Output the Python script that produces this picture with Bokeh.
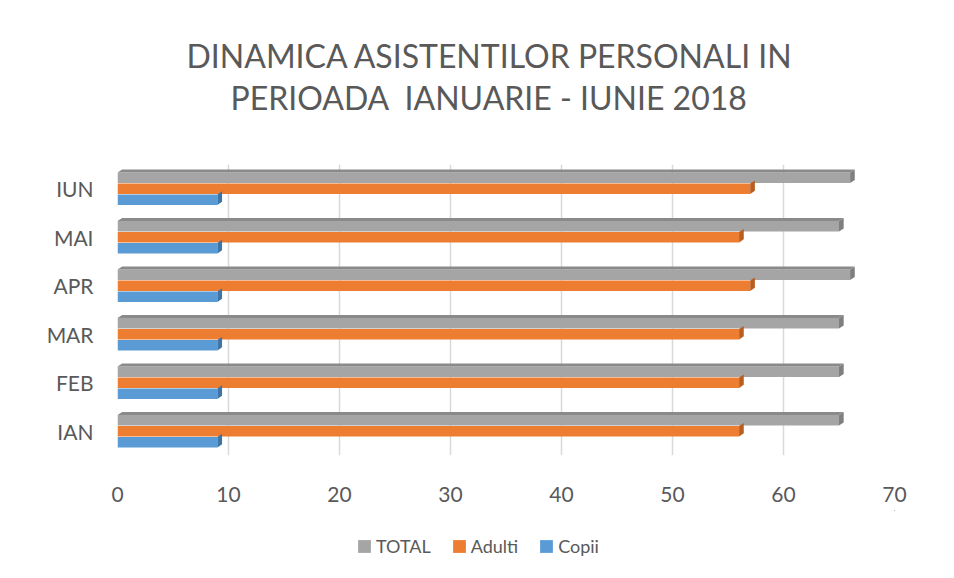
from bokeh.plotting import figure
from bokeh.layouts import column
from bokeh.models import Range1d, FixedTicker, Legend, LegendItem, Title, ColumnDataSource
from bokeh.embed import file_html
from bokeh.resources import INLINE

months = ["IAN", "FEB", "MAR", "APR", "MAI", "IUN"]
total = [65, 65, 65, 66, 65, 66]
adulti = [56, 56, 56, 57, 56, 57]
copii = [9, 9, 9, 9, 9, 9]
x_ticks = [0, 10, 20, 30, 40, 50, 60, 70]

series = [
    ("TOTAL", total, 0.225, "#a5a5a5", "#7f7f7f"),
    ("Adulti", adulti, 0.0, "#ed7d31", "#b85e20"),
    ("Copii", copii, -0.225, "#5b9bd5", "#3e74a6"),
]

FONT = "Lato"
TXT = "#595959"

p = figure(width=954, height=510, output_backend="svg", toolbar_location=None,
           x_range=Range1d(0, 70), y_range=Range1d(0, len(months)),
           min_border_left=117, min_border_right=60, min_border_top=164, min_border_bottom=55)
p.outline_line_color = None
p.background_fill_color = "white"
p.border_fill_color = "white"

bar_h = 0.215
dx, dy = 0.42, 0.065
sources = []
for name, vals, off, col, dark in series:
    ys = [i + 0.5 + off for i in range(len(months))]
    src = ColumnDataSource(dict(y=ys, right=vals))
    sources.append(src)
    p.hbar(y="y", left=0, right="right", height=bar_h, source=src,
           fill_color=col, line_color=None)
    # 3D side faces
    xs_side, ys_side = [], []
    for v, yc in zip(vals, ys):
        yb, yt = yc - bar_h / 2, yc + bar_h / 2
        xs_side.append([v, v, v + dx, v + dx])
        ys_side.append([yb, yt, yt + dy, yb + dy])
    p.patches(xs_side, ys_side, fill_color=dark, line_color=None)
    if name == "TOTAL":
        xs_top, ys_top = [], []
        for v, yc in zip(vals, ys):
            yt = yc + bar_h / 2
            xs_top.append([0, v, v + dx, dx])
            ys_top.append([yt, yt, yt + dy, yt + dy])
        p.patches(xs_top, ys_top, fill_color="#8a8a8a", line_color=None)

p.xaxis.ticker = FixedTicker(ticks=x_ticks)
p.yaxis.ticker = FixedTicker(ticks=[i + 0.5 for i in range(len(months))])
p.yaxis.major_label_overrides = {i + 0.5: m for i, m in enumerate(months)}

for ax in (p.xaxis, p.yaxis):
    ax.axis_line_color = None
    ax.major_tick_line_color = None
    ax.minor_tick_line_color = None
    ax.major_label_text_font = FONT
    ax.major_label_text_font_size = "21px"
    ax.major_label_text_color = TXT
p.xaxis.major_label_standoff = 25
p.yaxis.major_label_standoff = 18

p.xgrid.grid_line_color = "#d9d9d9"
p.xgrid.grid_line_width = 1.5
p.ygrid.grid_line_color = None

spacer = Title(text="\u00a0", text_font=FONT, text_font_size="10px", standoff=34)
t2 = Title(text="PERIOADA\u00a0 IANUARIE - IUNIE 2018", align="left", offset=113,
           text_font=FONT, text_font_size="32px", text_font_style="normal",
           text_color=TXT, standoff=0)
t1 = Title(text="DINAMICA ASISTENTILOR PERSONALI IN", align="left", offset=69,
           text_font=FONT, text_font_size="32px", text_font_style="normal",
           text_color=TXT, standoff=2)
p.add_layout(spacer, "above")
p.add_layout(t2, "above")
p.add_layout(t1, "above")

# legend strip under the chart
lg = figure(width=954, height=68, output_backend="svg", toolbar_location=None,
            x_range=Range1d(-10, -9), y_range=Range1d(-10, -9),
            x_axis_type=None, y_axis_type=None, min_border=0)
lg.outline_line_color = None
lg.grid.visible = False
items = []
for (name, vals, off, col, dark), src in zip(series, sources):
    r = lg.hbar(y="y", left=0, right="right", height=bar_h, source=src,
                fill_color=col, line_color=None)
    items.append(LegendItem(label=name, renderers=[r]))
legend = Legend(items=items, orientation="horizontal", location=(239, 21),
                label_text_font=FONT, label_text_font_size="18px", label_text_color=TXT,
                glyph_width=16, glyph_height=16, label_standoff=4, spacing=20,
                border_line_color=None, background_fill_alpha=0, margin=0, padding=0)
lg.add_layout(legend)

open("out.html", "w").write(file_html(column(p, lg), INLINE))
